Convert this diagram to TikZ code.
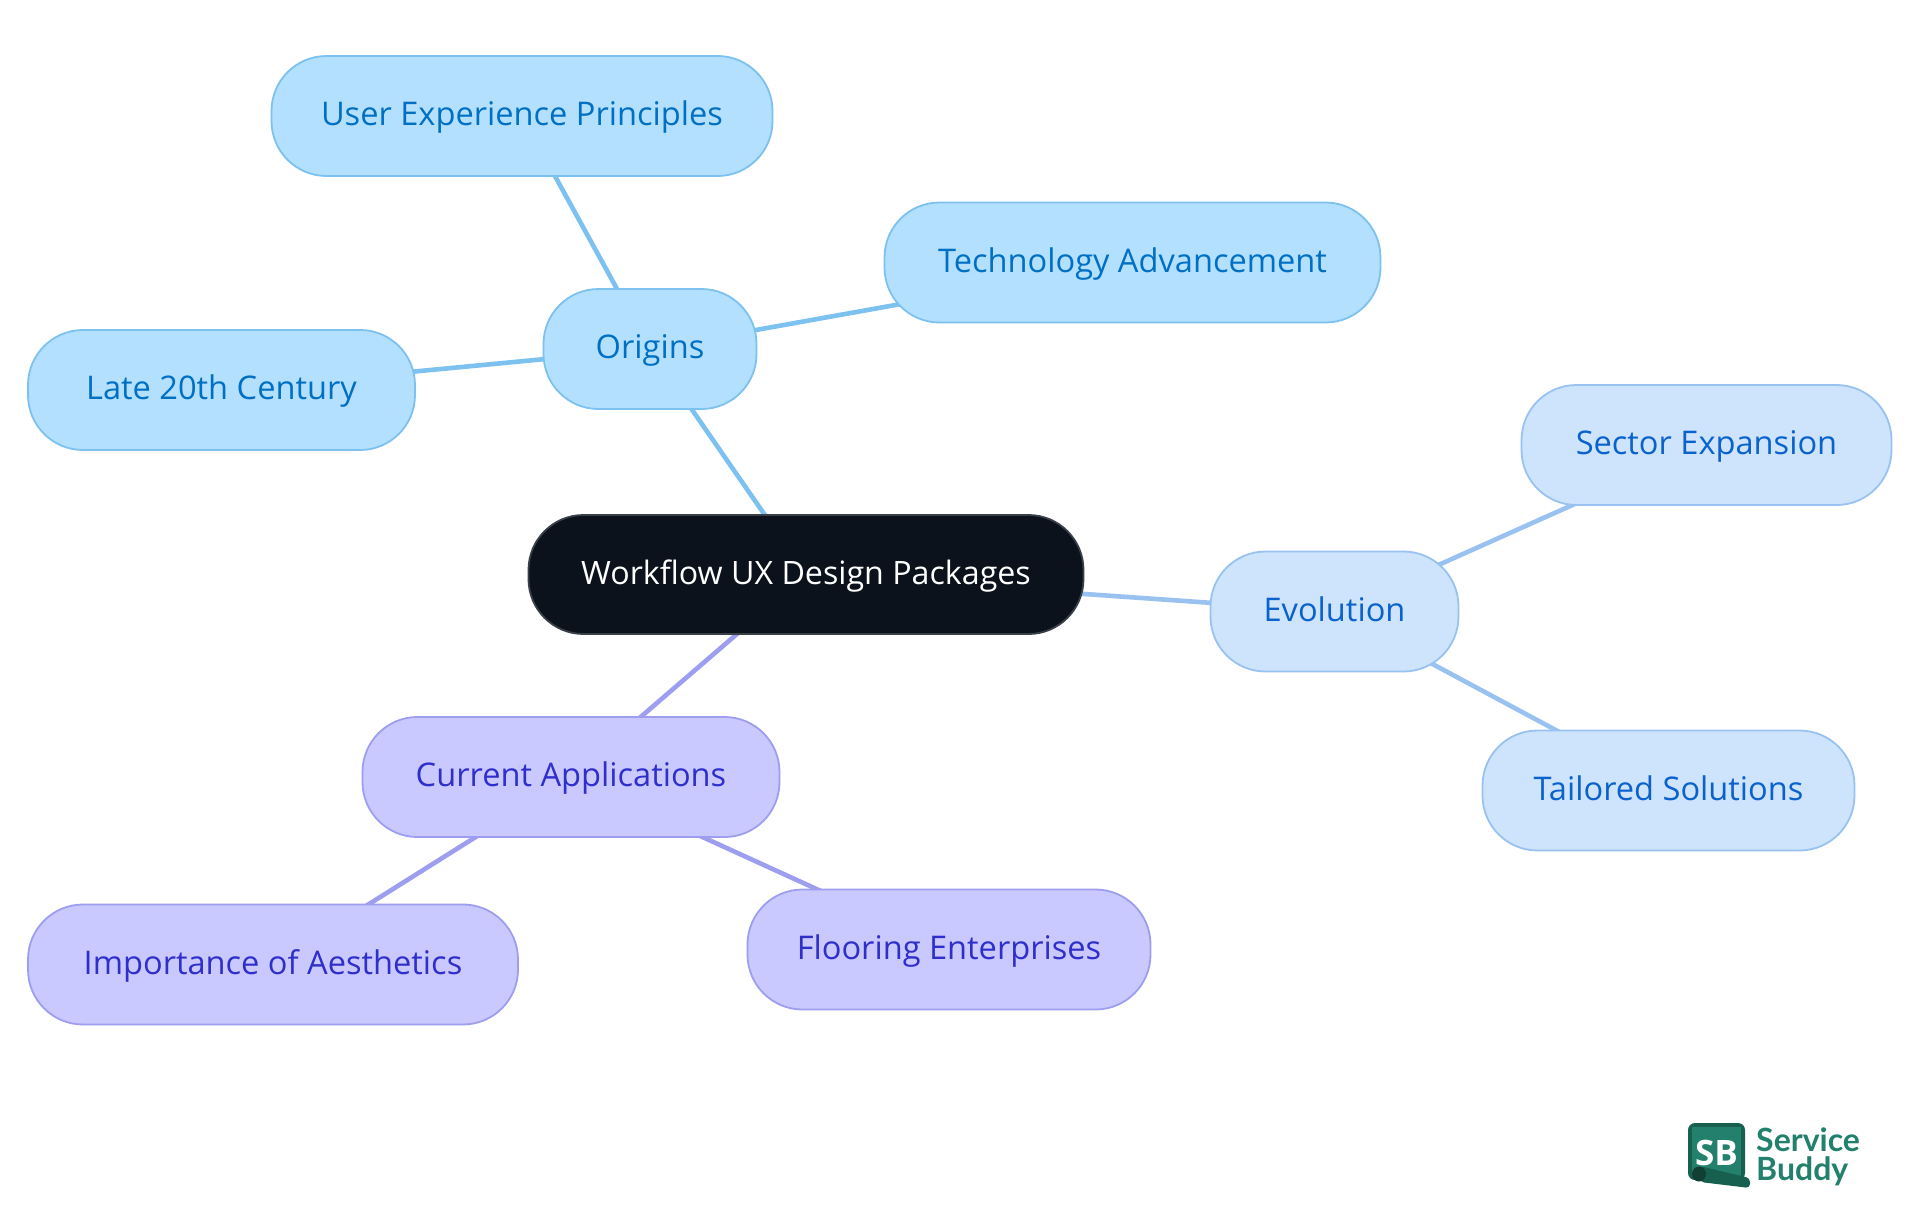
\documentclass[tikz,border=0pt]{standalone}
\usepackage{fontspec}
\setmainfont{Open Sans}
\newfontfamily\logofont{Lato}
\usetikzlibrary{backgrounds}
\definecolor{blueA}{HTML}{B4E0FF}
\definecolor{blueAline}{HTML}{7DC1F0}
\definecolor{blueAtext}{HTML}{0070C4}
\definecolor{blueB}{HTML}{CEE3FC}
\definecolor{blueBline}{HTML}{99C2F0}
\definecolor{blueBtext}{HTML}{0A62CC}
\definecolor{violet}{HTML}{C9C9FF}
\definecolor{violetline}{HTML}{9E9EF0}
\definecolor{violettext}{HTML}{2F2FCC}
\definecolor{rootfill}{HTML}{0B121B}
\definecolor{rootline}{HTML}{3A4048}
\definecolor{sbgreen}{HTML}{22806D}
\definecolor{sbdark}{HTML}{17604F}
\definecolor{sbdarker}{HTML}{123F33}
\tikzset{
  mapnode/.style={rectangle,rounded corners=55pt,line width=1.8pt,inner sep=0pt,anchor=center,
    text height=26pt,text depth=7pt,font=\fontsize{32.6}{36}\selectfont},
  aN/.style={mapnode,fill=blueA,draw=blueAline,text=blueAtext},
  bN/.style={mapnode,fill=blueB,draw=blueBline,text=blueBtext},
  cN/.style={mapnode,fill=violet,draw=violetline,text=violettext},
  rootN/.style={mapnode,fill=rootfill,draw=rootline,text=white,font=\fontsize{32.2}{36}\selectfont},
  aE/.style={line width=4.6pt,draw=blueAline},
  bE/.style={line width=4.6pt,draw=blueBline},
  cE/.style={line width=4.6pt,draw=violetline},
  logotext/.style={inner sep=0pt,anchor=base west,text=sbgreen,font=\logofont\fontsize{32}{32}\selectfont\bfseries}
}
\begin{document}
\begin{tikzpicture}[x=1pt,y=-1pt]
\useasboundingbox (0,0) rectangle (1920,1215);
\node[rootN,minimum width=555pt,minimum height=119pt] (root) at (806,574.5) {Workflow UX Design Packages};
\node[aN,minimum width=213pt,minimum height=120pt] (origins) at (650,349) {Origins};
\node[aN,minimum width=501pt,minimum height=120pt] (user) at (522,116) {User Experience Principles};
\node[aN,minimum width=496pt,minimum height=120pt] (tech) at (1132.5,262.5) {Technology Advancement};
\node[aN,minimum width=387pt,minimum height=120pt] (late) at (221.5,390) {Late 20th Century};
\node[bN,minimum width=248pt,minimum height=120pt] (evo) at (1334.5,611.5) {Evolution};
\node[bN,minimum width=370pt,minimum height=120pt] (sector) at (1706.5,445) {Sector Expansion};
\node[bN,minimum width=372pt,minimum height=120pt] (tailored) at (1668.5,790.5) {Tailored Solutions};
\node[cN,minimum width=417pt,minimum height=120pt] (current) at (571,777) {Current Applications};
\node[cN,minimum width=490pt,minimum height=120pt] (aesth) at (273,964.5) {Importance of Aesthetics};
\node[cN,minimum width=403pt,minimum height=120pt] (floor) at (949,949.5) {Flooring Enterprises};
\begin{scope}[on background layer]
\fill[white] (0,0) rectangle (1920,1215);
\draw[aE] (root.center) -- (origins.center);
\draw[aE] (origins.center) -- (user.center);
\draw[aE] (origins.center) -- (tech.center);
\draw[aE] (origins.center) -- (late.center);
\draw[bE] (root.center) -- (evo.center);
\draw[bE] (evo.center) -- (sector.center);
\draw[bE] (evo.center) -- (tailored.center);
\draw[cE] (root.center) -- (current.center);
\draw[cE] (current.center) -- (aesth.center);
\draw[cE] (current.center) -- (floor.center);
\end{scope}
% logo
\fill[sbdark,rounded corners=7pt] (1688,1123) rectangle (1745,1180);
\fill[sbgreen] (1692,1127) rectangle (1741,1176);
\node[inner sep=0pt,text=white,font=\fontsize{35}{35}\selectfont\bfseries] (sb) at (1716.5,1153) {SB};
\fill[sbdark,rounded corners=4pt] (1699,1166) -- (1750,1178) -- (1750,1188) -- (1700,1182) -- cycle;
\fill[sbdarker] (1699,1174) ellipse (7pt and 7.5pt);
\node[logotext] (service) at (1756,1151) {Service};
\node[logotext] (buddy) at (1756,1180) {Buddy};
\end{tikzpicture}
\end{document}
